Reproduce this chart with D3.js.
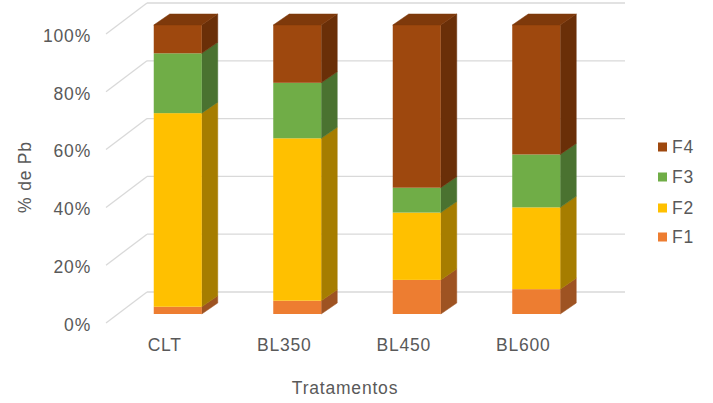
<!DOCTYPE html>
<html>
<head>
<meta charset="utf-8">
<script src="https://cdn.jsdelivr.net/npm/d3@7"></script>
<style>
  html, body { margin: 0; padding: 0; background: #fff; }
  svg { display: block; font-family: "Liberation Sans", Arial, sans-serif; }
  text { letter-spacing: 0.8px; }
</style>
</head>
<body>
<svg id="chart" width="713" height="403"></svg>
<script>
// ---- data ----
const categories = ["CLT", "BL350", "BL450", "BL600"];
const seriesNames = ["F1", "F2", "F3", "F4"];
const F1 = [2.5, 4.6, 11.8, 8.6];
const F2 = [67.0, 56.2, 23.3, 28.3];
const F3 = [20.7, 19.2, 8.6, 18.3];
const F4 = [9.8, 20.0, 56.3, 44.8];
const yTicks = [0, 20, 40, 60, 80, 100];
const colors = ["#ED7D31", "#FFC000", "#70AD47", "#9E480E"];
const sideColors = ["#9E5322", "#A67D00", "#4A7230", "#6A2F08"];
const topColor = "#7E390B";

const seriesValues = [F1, F2, F3, F4];
const svg = d3.select("#chart");
const FS = 17.5;
const TXT = "#595959";

// ---- 3D geometry ----
const wall = { dx: 41, dy: -31 };   // depth of the floor / side wall
const barShift = { dx: 12, dy: -9 }; // bars' front plane offset
const barDepth = { dx: 16, dy: -11 };
const barW = 48;

const x = d3.scaleBand().domain(categories).range([106, 584]);
const y = d3.scaleLinear().domain([0, 100]).range([323, 34]);

// gridlines (side wall diagonals + back wall)
const grid = svg.append("g");
yTicks.forEach(t => {
  const yf = y(t), yb = y(t) + wall.dy;
  grid.append("line").attr("x1", 106).attr("y1", yf)
    .attr("x2", 106 + wall.dx).attr("y2", yb)
    .attr("stroke", "#D9D9D9").attr("stroke-width", 1.3);
  grid.append("line").attr("x1", 106 + wall.dx).attr("y1", yb)
    .attr("x2", 625).attr("y2", yb)
    .attr("stroke", "#D9D9D9").attr("stroke-width", 1.3);
});

// stacked data
const stacked = categories.map((c, i) => {
  let acc = 0;
  return seriesValues.map((vals, s) => {
    const v0 = acc; acc += vals[i];
    return { cat: c, s, v0, v1: acc };
  });
});

const bars = svg.append("g");
stacked.forEach(segs => {
  segs.forEach((d, k) => {
    const xl = x(d.cat) + x.bandwidth() / 2 - barW / 2 + barShift.dx;
    const xr = xl + barW;
    const y0 = y(d.v0) + barShift.dy, y1 = y(d.v1) + barShift.dy;
    // side face
    bars.append("polygon")
      .attr("points", [[xr, y0], [xr, y1], [xr + barDepth.dx, y1 + barDepth.dy], [xr + barDepth.dx, y0 + barDepth.dy]].map(p => p.join(",")).join(" "))
      .attr("fill", sideColors[d.s]).attr("stroke", sideColors[d.s]).attr("stroke-width", 0.5);
    // front face
    bars.append("rect").attr("x", xl).attr("y", y1).attr("width", barW).attr("height", y0 - y1)
      .attr("fill", colors[d.s]);
    if (k === segs.length - 1) {
      bars.append("polygon")
        .attr("points", [[xl, y1], [xr, y1], [xr + barDepth.dx, y1 + barDepth.dy], [xl + barDepth.dx, y1 + barDepth.dy]].map(p => p.join(",")).join(" "))
        .attr("fill", topColor).attr("stroke", topColor).attr("stroke-width", 0.5);
    }
  });
});

// axes
const yAxis = svg.append("g").attr("transform", "translate(106,0)")
  .call(d3.axisLeft(y).tickValues(yTicks).tickFormat(d => d + "%").tickSize(0).tickPadding(15));
yAxis.select(".domain").remove();
yAxis.selectAll("text").attr("font-size", FS).attr("fill", TXT)
  .attr("font-family", "Liberation Sans, Arial, sans-serif").attr("dy", "0.42em");

const xAxis = svg.append("g").attr("transform", "translate(-1,323)")
  .call(d3.axisBottom(x).tickSize(0).tickPadding(16));
xAxis.select(".domain").remove();
xAxis.selectAll("text").attr("font-size", FS).attr("fill", TXT)
  .attr("font-family", "Liberation Sans, Arial, sans-serif");

// axis titles
svg.append("text").attr("transform", "translate(31,177) rotate(-90)")
  .attr("text-anchor", "middle").attr("font-size", FS).attr("fill", TXT).text("% de Pb");
svg.append("text").attr("x", 345).attr("y", 394)
  .attr("text-anchor", "middle").attr("font-size", FS).attr("fill", TXT).text("Tratamentos");

// legend
const legendY = [237, 208, 177, 147]; // F1..F4
const legend = svg.append("g");
seriesNames.forEach((n, i) => {
  const g = legend.append("g").attr("transform", `translate(658,${legendY[i]})`);
  g.append("rect").attr("x", 0).attr("y", -4.5).attr("width", 9).attr("height", 9).attr("fill", colors[i]);
  g.append("text").attr("x", 14).attr("y", 0).attr("dy", "0.36em")
    .attr("font-size", FS).attr("fill", TXT).text(n);
});
</script>
</body>
</html>
